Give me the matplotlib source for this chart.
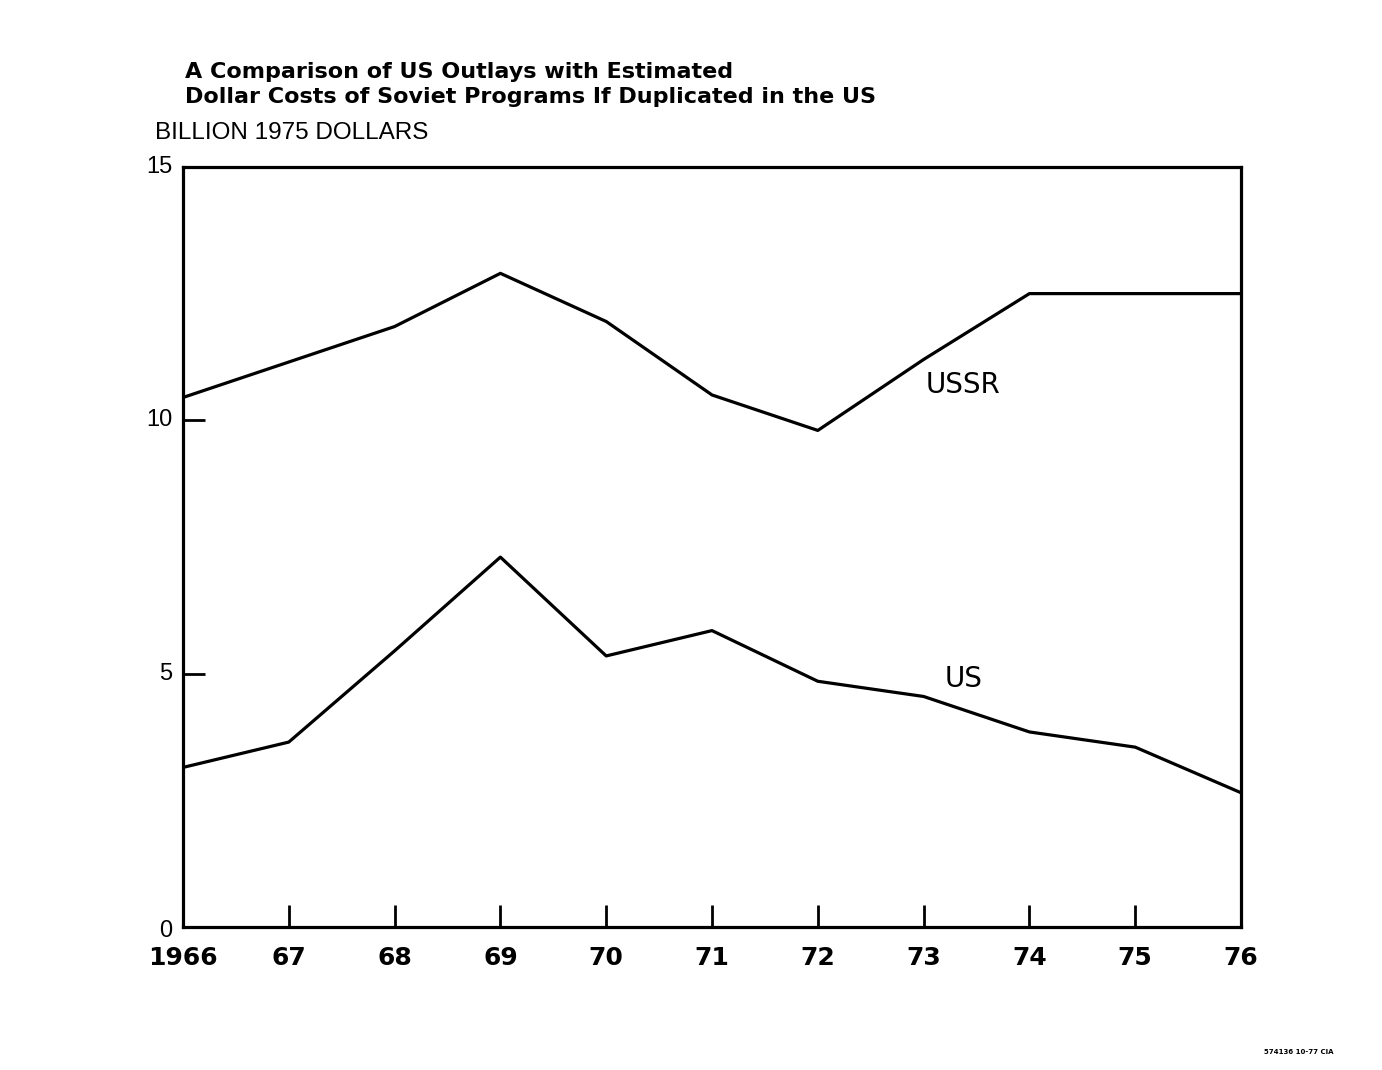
import numpy as np
import matplotlib.pyplot as plt

# Data (billion 1975 dollars)
years = [1966, 1967, 1968, 1969, 1970, 1971, 1972, 1973, 1974, 1975, 1976]
year_labels = ["1966", "67", "68", "69", "70", "71", "72", "73", "74", "75", "76"]
ussr = [10.45, 11.15, 11.85, 12.9, 11.95, 10.5, 9.8, 11.2, 12.5, 12.5, 12.5]
us = [3.15, 3.65, 5.45, 7.3, 5.35, 5.85, 4.85, 4.55, 3.85, 3.55, 2.65]

fig = plt.figure(figsize=(13.82, 10.70), dpi=100)
ax = fig.add_axes([0.1324, 0.1336, 0.7656, 0.7104])

ax.plot(years, ussr, color="black", lw=2.3)
ax.plot(years, us, color="black", lw=2.3)

ax.set_xlim(1966, 1976)
ax.set_ylim(0, 15)

for s in ax.spines.values():
    s.set_linewidth(2.3)

# ticks point inward, labels placed by hand below
ax.set_xticks(years[1:-1])
ax.tick_params(axis="x", direction="in", length=16, width=2, labelbottom=False)
ax.set_yticks([5, 10])
ax.tick_params(axis="y", direction="in", length=16, width=2, labelleft=False)

for yr, lab in zip(years, year_labels):
    ax.text(yr, -0.62, lab, ha="center", va="center", fontsize=18,
            fontweight="bold")
for val in [0, 5, 10, 15]:
    yv = val - 0.08 if val == 0 else val
    ax.text(1965.9, yv, str(val), ha="right", va="center", fontsize=17,
            family="Liberation Sans")

ax.text(1973.02, 10.7, "USSR", fontsize=20, ha="left", va="center")
ax.text(1973.2, 4.9, "US", fontsize=20, ha="left", va="center")

fig.text(0.134, 0.933, "A Comparison of US Outlays with Estimated",
         fontsize=16, fontweight="bold", ha="left", va="center")
fig.text(0.134, 0.909, "Dollar Costs of Soviet Programs If Duplicated in the US",
         fontsize=16, fontweight="bold", ha="left", va="center")
fig.text(0.112, 0.876, "BILLION 1975 DOLLARS", fontsize=17.5, ha="left", va="center",
         family="Liberation Sans")
fig.text(0.965, 0.017, "574136 10-77 CIA", fontsize=5, fontweight="bold",
         ha="right", va="center")

fig.savefig("out.png", dpi=100)
